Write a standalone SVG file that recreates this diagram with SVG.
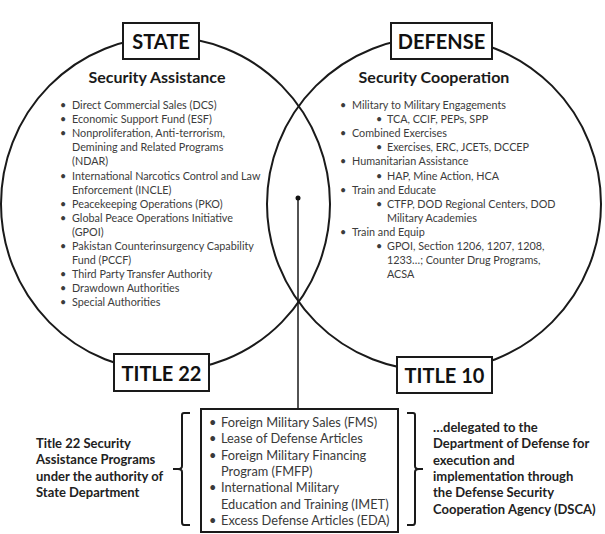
<svg xmlns="http://www.w3.org/2000/svg" width="605" height="534" viewBox="0 0 605 534">
<style>
.ring{fill:none;stroke:#1a1a1a;stroke-width:2}
.box{fill:#fff;stroke:#1a1a1a;stroke-width:2}
.title{font-family:Lato,"Liberation Sans",sans-serif;font-weight:bold;font-size:20px;fill:#111;text-anchor:middle}
.head{font-family:Lato,"Liberation Sans",sans-serif;font-weight:bold;font-size:16px;fill:#1a1a1a;text-anchor:middle}
.li{font-family:Lato,"Liberation Sans",sans-serif;font-size:10.8px;fill:#3c3c3c}
.bi{font-family:Lato,"Liberation Sans",sans-serif;font-size:12.8px;fill:#3a3a3a}
.side{font-family:Lato,"Liberation Sans",sans-serif;font-weight:bold;font-size:13px;fill:#222}
.br{fill:none;stroke:#1a1a1a;stroke-width:2}
</style>
<g id="circles">
<ellipse class="ring" cx="165.5" cy="204" rx="164.5" ry="167"/>
<ellipse class="ring" cx="434" cy="204" rx="167" ry="167"/>
</g>
<g id="connectors">
<line x1="298" y1="198" x2="298" y2="409" stroke="#1a1a1a" stroke-width="1.5"/>
<circle cx="298" cy="198" r="2.5" fill="#111"/>
</g>
<g id="state">
<rect class="box" x="123" y="23" width="76" height="36"/>
<text class="title" x="161" y="49">STATE</text>
</g>
<g id="defense">
<rect class="box" x="391" y="23" width="101" height="36"/>
<text class="title" x="441.5" y="49">DEFENSE</text>
</g>
<g id="title22">
<rect class="box" x="114" y="354" width="95" height="37"/>
<text class="title" x="161.5" y="381">TITLE 22</text>
</g>
<g id="title10">
<rect class="box" x="397" y="357" width="95" height="36"/>
<text class="title" x="444.5" y="383">TITLE 10</text>
</g>
<g id="security-assistance">
<text class="head" x="157" y="83">Security Assistance</text>
<g class="li">
<text x="60" y="109">•</text><text x="72" y="109">Direct Commercial Sales (DCS)</text>
<text x="60" y="123.1">•</text><text x="72" y="123.1">Economic Support Fund (ESF)</text>
<text x="60" y="137.2">•</text><text x="72" y="137.2">Nonproliferation, Anti-terrorism,</text>
<text x="72" y="151.3">Demining and Related Programs</text>
<text x="72" y="165.4">(NDAR)</text>
<text x="60" y="179.5">•</text><text x="72" y="179.5">International Narcotics Control and Law</text>
<text x="72" y="193.6">Enforcement (INCLE)</text>
<text x="60" y="207.7">•</text><text x="72" y="207.7">Peacekeeping Operations (PKO)</text>
<text x="60" y="221.8">•</text><text x="72" y="221.8">Global Peace Operations Initiative</text>
<text x="72" y="235.9">(GPOI)</text>
<text x="60" y="250">•</text><text x="72" y="250">Pakistan Counterinsurgency Capability</text>
<text x="72" y="264.1">Fund (PCCF)</text>
<text x="60" y="278.2">•</text><text x="72" y="278.2">Third Party Transfer Authority</text>
<text x="60" y="292.3">•</text><text x="72" y="292.3">Drawdown Authorities</text>
<text x="60" y="306.4">•</text><text x="72" y="306.4">Special Authorities</text>
</g>
</g>
<g id="security-cooperation">
<text class="head" x="434" y="83">Security Cooperation</text>
<g class="li">
<text x="340" y="109">•</text><text x="352" y="109">Military to Military Engagements</text>
<text x="376" y="123.1">•</text><text x="387" y="123.1">TCA, CCIF, PEPs, SPP</text>
<text x="340" y="137.2">•</text><text x="352" y="137.2">Combined Exercises</text>
<text x="376" y="151.3">•</text><text x="387" y="151.3">Exercises, ERC, JCETs, DCCEP</text>
<text x="340" y="165.4">•</text><text x="352" y="165.4">Humanitarian Assistance</text>
<text x="376" y="179.5">•</text><text x="387" y="179.5">HAP, Mine Action, HCA</text>
<text x="340" y="193.6">•</text><text x="352" y="193.6">Train and Educate</text>
<text x="376" y="207.7">•</text><text x="387" y="207.7">CTFP, DOD Regional Centers, DOD</text>
<text x="387" y="221.8">Military Academies</text>
<text x="340" y="235.9">•</text><text x="352" y="235.9">Train and Equip</text>
<text x="376" y="250">•</text><text x="387" y="250">GPOI, Section 1206, 1207, 1208,</text>
<text x="387" y="264.1">1233…; Counter Drug Programs,</text>
<text x="387" y="278.2">ACSA</text>
</g>
</g>
<g id="programs">
<rect class="box" x="201" y="409" width="197" height="123"/>
<g class="bi">
<text x="209" y="427">•</text><text x="221" y="427">Foreign Military Sales (FMS)</text>
<text x="209" y="443.3">•</text><text x="221" y="443.3">Lease of Defense Articles</text>
<text x="209" y="459.6">•</text><text x="221" y="459.6">Foreign Military Financing</text>
<text x="221" y="475.9">Program (FMFP)</text>
<text x="209" y="492.2">•</text><text x="221" y="492.2">International Military</text>
<text x="221" y="508.5">Education and Training (IMET)</text>
<text x="209" y="524.8">•</text><text x="221" y="524.8">Excess Defense Articles (EDA)</text>
</g>
</g>
<g id="left-note">
<path class="br" d="M190,413 H184 Q182,413 182,415 V466 Q182,469 178,469 H173 M178,469 Q182,469 182,472 V522 Q182,525 184,525 H190"/>
<g class="side">
<text x="36" y="448">Title 22 Security</text>
<text x="36" y="464.3">Assistance Programs</text>
<text x="36" y="480.6">under the authority of</text>
<text x="36" y="496.9">State Department</text>
</g>
</g>
<g id="right-note">
<path class="br" d="M407,413 H413 Q415,413 415,415 V466 Q415,469 419,469 H423 M419,469 Q415,469 415,472 V522 Q415,525 413,525 H407"/>
<g class="side">
<text x="433" y="432">…delegated to the</text>
<text x="433" y="448.3">Department of Defense for</text>
<text x="433" y="464.6">execution and</text>
<text x="433" y="480.9">implementation through</text>
<text x="433" y="497.2">the Defense Security</text>
<text x="433" y="513.5">Cooperation Agency (DSCA)</text>
</g>
</g>
</svg>
